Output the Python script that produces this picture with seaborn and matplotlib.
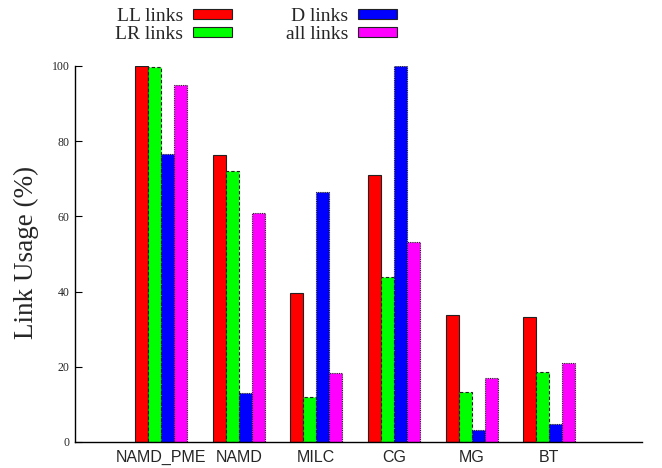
import pandas as pd
import seaborn as sns
import matplotlib.pyplot as plt
import matplotlib.transforms as mtransforms

benchmarks = ['NAMD_PME', 'NAMD', 'MILC', 'CG', 'MG', 'BT']
link_types = ['LL links', 'LR links', 'D links', 'all links']
ll_links = [100.0, 76.3, 39.6, 71.0, 33.8, 33.2]
lr_links = [99.6, 72.1, 12.0, 43.9, 13.3, 18.6]
d_links = [76.7, 13.0, 66.5, 100.0, 3.2, 4.8]
all_links = [94.9, 60.8, 18.4, 53.2, 17.0, 21.0]
colors = ['#ff0000', '#00ff00', '#0000ff', '#ff00ff']
edge_styles = ['solid', (0, (3, 2)), (0, (1, 1)), (0, (1, 1))]


def build_frame():
    """ Long-form table for seaborn. """
    rows = []
    for name, vals in zip(link_types, [ll_links, lr_links, d_links, all_links]):
        for bench, v in zip(benchmarks, vals):
            rows.append({'benchmark': bench, 'usage': v, 'link': name})
    return pd.DataFrame(rows)


def main():
    df = build_frame()
    sns.set_style('white')

    fig = plt.figure(figsize=(6.62, 4.68), dpi=100)
    ax = fig.add_axes([0.1133, 0.0556, 0.857, 0.8034])

    sns.barplot(data=df, x='benchmark', y='usage', hue='link',
                order=benchmarks, hue_order=link_types, palette=colors,
                width=0.67, saturation=1, edgecolor='#222222',
                linewidth=0.8, ax=ax)

    # gnuplot-like edge dashes per series
    for cont, ls in zip(ax.containers, edge_styles):
        for bar in cont:
            bar.set_linestyle(ls)

    ax.set_xlim(-1.11, 6.2)
    ax.set_ylim(0, 100)
    ax.set_yticks([0, 20, 40, 60, 80, 100])
    ax.set_xlabel('')
    ax.set_ylabel('Link Usage (%)', family='Liberation Serif', fontsize=19.5)
    ax.yaxis.set_label_coords(-0.064, 0.505)

    for lab in ax.get_yticklabels():
        lab.set_family('Liberation Serif')
        lab.set_fontsize(8.5)
    # labels sit a little left of the cluster centre, as in the original
    shift = mtransforms.ScaledTranslation(-0.06, 0, fig.dpi_scale_trans)
    for lab in ax.get_xticklabels():
        lab.set_family('Liberation Sans')
        lab.set_fontsize(11.5)
        lab.set_transform(lab.get_transform() + shift)

    ax.tick_params(axis='y', left=True, direction='in', length=5,
                   width=0.8, pad=4, color='black')
    ax.tick_params(axis='x', length=0, pad=6)
    ax.spines['top'].set_visible(False)
    ax.spines['right'].set_visible(False)
    for s in ['left', 'bottom']:
        ax.spines[s].set_color('black')
        ax.spines[s].set_linewidth(1.0)

    handles, labels = ax.get_legend_handles_labels()
    ax.get_legend().remove()
    fig.legend(handles, labels, ncol=2, markerfirst=False, frameon=False,
               loc='upper left', bbox_to_anchor=(115 / 662, 1 - 8 / 468),
               borderpad=0, borderaxespad=0, handlelength=2.0,
               handleheight=0.42, handletextpad=0.5, labelspacing=0.05,
               columnspacing=2.8,
               prop={'family': 'Liberation Serif', 'size': 14})

    fig.savefig('out.png', dpi=100)


if __name__ == "__main__":
    main()
